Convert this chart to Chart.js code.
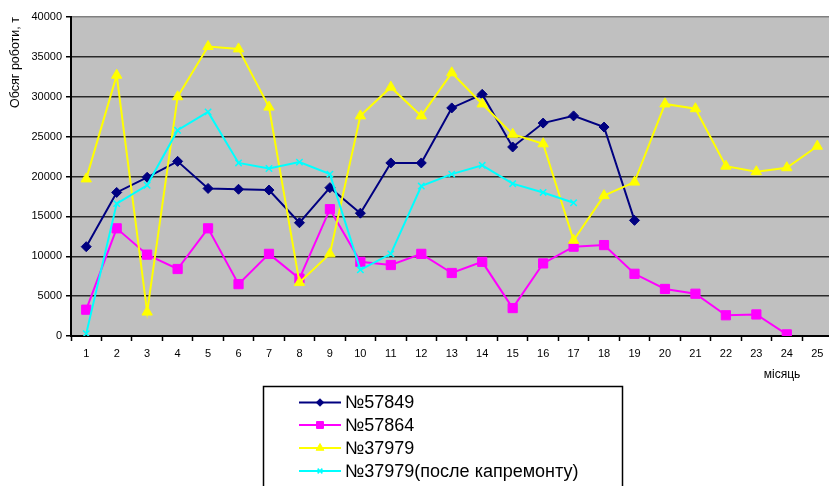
<!DOCTYPE html>
<html>
<head>
<meta charset="utf-8">
<script src="https://cdn.jsdelivr.net/npm/chart.js@4.4.0/dist/chart.umd.min.js"></script>
<style>
  html, body { margin: 0; padding: 0; background: #fff; overflow: hidden; }
</style>
</head>
<body>
<canvas id="chart" width="840" height="486"></canvas>
<script>
// months 1..25
const months = ['1','2','3','4','5','6','7','8','9','10','11','12','13','14','15','16','17','18','19','20','21','22','23','24','25'];

// tonnes
const loco57849 = [11200, 18000, 19900, 21900, 18500, 18400, 18300, 14200, 18600, 15400, 21700, 21700, 28600, 30300, 23700, 26700, 27600, 26200, 14500];
const loco57864 = [3300, 13500, 10200, 8400, 13500, 6500, 10300, 7200, 15900, 9300, 8900, 10300, 7900, 9300, 3500, 9100, 11200, 11400, 7800, 5900, 5300, 2600, 2700, 200];
const loco37979 = [19700, 32700, 3000, 30000, 36300, 36000, 28700, 6700, 10300, 27600, 31200, 27600, 33000, 29100, 25300, 24100, 12000, 17600, 19300, 29100, 28500, 21300, 20600, 21100, 23800];
const loco37979after = [300, 16600, 18900, 25800, 28100, 21700, 21000, 21800, 20300, 8300, 10300, 18800, 20300, 21400, 19100, 18000, 16700];

const seriesNames = ['№57849', '№57864', '№37979', '№37979(после капремонту)'];
const seriesColors = ['#000080', '#ff00ff', '#ffff00', '#00ffff'];

const font = 'Liberation Sans, Arial, sans-serif';

const plotBg = {
    id: 'plotBg',
    beforeDraw(chart) {
        const a = chart.chartArea;
        const ctx = chart.ctx;
        ctx.save();
        ctx.fillStyle = '#c0c0c0';
        ctx.fillRect(a.left, a.top, a.right - a.left, a.bottom - a.top);
        ctx.restore();
    }
};

// boxed legend under the plot + the x axis caption
const boxLegend = {
    id: 'boxLegend',
    afterDraw(chart) {
        const ctx = chart.ctx;
        ctx.save();
        ctx.fillStyle = '#fff';
        ctx.fillRect(264, 387, 358, 110);
        ctx.strokeStyle = '#000';
        ctx.lineWidth = 1.5;
        ctx.strokeRect(263.5, 386.5, 359, 120);

        const rows = [402.5, 425, 448, 471];
        chart.data.datasets.forEach((ds, i) => {
            const y = rows[i];
            ctx.strokeStyle = ds.borderColor;
            ctx.lineWidth = 2;
            ctx.beginPath();
            ctx.moveTo(299, y);
            ctx.lineTo(341, y);
            ctx.stroke();
            ctx.fillStyle = ds.borderColor;
            ctx.strokeStyle = ds.borderColor;
            ctx.lineWidth = ds.pointBorderWidth;
            Chart.helpers.drawPoint(ctx, {
                pointStyle: ds.pointStyle,
                radius: ds.pointRadius * 0.75,
                rotation: 0,
                borderWidth: ds.pointBorderWidth
            }, 320, y);
            ctx.fillStyle = '#000';
            ctx.font = '18px ' + font;
            ctx.textBaseline = 'middle';
            ctx.textAlign = 'left';
            ctx.fillText(ds.label, 345, y + 1);
        });

        ctx.fillStyle = '#000';
        ctx.font = '12px ' + font;
        ctx.textAlign = 'center';
        ctx.textBaseline = 'middle';
        ctx.fillText('місяць', 782, 375);
        ctx.restore();
    }
};

function makeSet(i, data, style, radius) {
    return {
        label: seriesNames[i],
        data: data,
        borderColor: seriesColors[i],
        backgroundColor: seriesColors[i],
        pointBackgroundColor: seriesColors[i],
        pointBorderColor: seriesColors[i],
        pointStyle: style,
        pointRadius: radius,
        pointBorderWidth: style === 'crossRot' ? 1.5 : 1,
        borderWidth: 2,
        tension: 0,
        spanGaps: false,
        order: 4 - i
    };
}

new Chart(document.getElementById('chart').getContext('2d'), {
    type: 'line',
    data: {
        labels: months,
        datasets: [
            makeSet(0, loco57849, 'rectRot', 5),
            makeSet(1, loco57864, 'rect', 6.5),
            makeSet(2, loco37979, 'triangle', 6),
            makeSet(3, loco37979after, 'crossRot', 4.5)
        ]
    },
    options: {
        responsive: false,
        animation: false,
        devicePixelRatio: 1,
        layout: { padding: { top: 17, right: 6.5, left: 0, bottom: 0 } },
        plugins: { legend: { display: false }, tooltip: { enabled: false } },
        scales: {
            x: {
                offset: true,
                grid: { offset: true, drawOnChartArea: false, tickLength: 5, tickColor: '#000', tickWidth: 1.5 },
                border: { color: '#000', width: 2 },
                ticks: { color: '#000', font: { family: font, size: 11 }, padding: 6, maxRotation: 0, autoSkip: false },
                afterFit: s => { s.height = 150; }
            },
            y: {
                min: 0,
                max: 40000,
                ticks: { stepSize: 5000, color: '#000', font: { family: font, size: 11 }, padding: 4, callback: v => String(v) },
                grid: {
                    color: c => c.tick && c.tick.value === 40000 ? '#808080' : '#2a2a2a',
                    lineWidth: 1.5,
                    tickLength: 5,
                    tickColor: '#000'
                },
                border: { color: '#000', width: 2 },
                title: { display: true, text: 'Обсяг роботи, т', align: 'end', color: '#000', font: { family: font, size: 12.5 }, padding: { top: 8, bottom: 0 } },
                afterFit: s => { s.width = 71; }
            }
        }
    },
    plugins: [plotBg, boxLegend]
});
</script>
</body>
</html>
